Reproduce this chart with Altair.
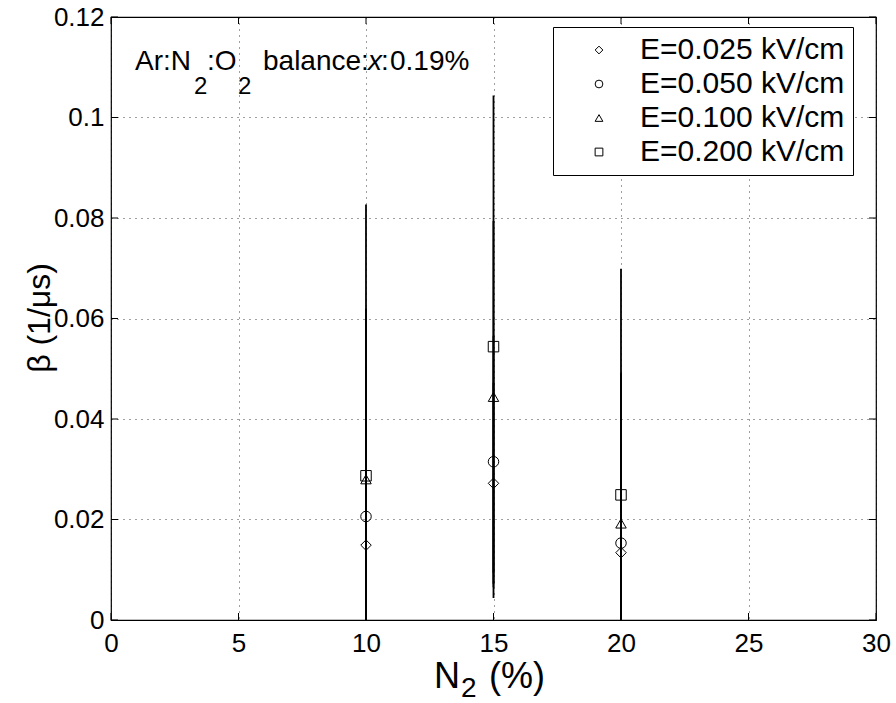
import altair as alt
import pandas as pd

# ---- data ----
n2 = [10, 15, 20]
series_names = ["E=0.025 kV/cm", "E=0.050 kV/cm", "E=0.100 kV/cm", "E=0.200 kV/cm"]
beta_025 = [0.0149, 0.0272, 0.0134]
beta_050 = [0.0206, 0.0315, 0.0153]
beta_100 = [0.0280, 0.0444, 0.0192]
beta_200 = [0.0287, 0.0544, 0.0249]
err_025 = [0.020, 0.020, 0.015]
err_050 = [0.030, 0.025, 0.020]
err_100 = [0.034, 0.035, 0.030]
err_200 = [0.054, 0.050, 0.045]
x_ticks = [0, 5, 10, 15, 20, 25, 30]
y_ticks = [0, 0.02, 0.04, 0.06, 0.08, 0.1, 0.12]
shapes = ["diamond", "circle", "triangle-up", "square"]

betas = [beta_025, beta_050, beta_100, beta_200]
errs = [err_025, err_050, err_100, err_200]
rows = []
for name, bs, es in zip(series_names, betas, errs):
    for x, b, e in zip(n2, bs, es):
        rows.append({"n2": x, "beta": b, "lo": b - e, "hi": b + e, "series": name})
df = pd.DataFrame(rows)

W, H = 765, 603
LEFT, TOP = 111, 17
FONT = "Liberation Sans"

xs = alt.Scale(domain=[0, 30], nice=False, zero=False)
ys = alt.Scale(domain=[0, 0.12], nice=False, zero=False)
xaxis = alt.Axis(values=x_ticks, labelExpr="format(datum.value, 'd')", title=None)
yaxis = alt.Axis(values=y_ticks, labelExpr="format(datum.value, '.2~f')", title=None)

bars = alt.Chart(df).mark_rule(color="black", strokeWidth=1.8, clip=True).encode(
    x=alt.X("n2:Q", scale=xs, axis=xaxis),
    y=alt.Y("lo:Q", scale=ys, axis=yaxis),
    y2="hi:Q",
)

points = alt.Chart(df).mark_point(filled=False, color="black", strokeWidth=1, size=110, opacity=1).encode(
    x=alt.X("n2:Q", scale=xs, axis=xaxis),
    y=alt.Y("beta:Q", scale=ys, axis=yaxis),
    shape=alt.Shape(
        "series:N",
        scale=alt.Scale(domain=series_names, range=shapes),
        sort=series_names,
        legend=alt.Legend(
            title=None,
            orient="none",
            legendX=553 - LEFT,
            legendY=27 - TOP,
            fillColor="white",
            strokeColor="black",
            padding=8,
            labelFont=FONT,
            labelFontSize=30,
            labelColor="black",
            labelLimit=500,
            labelOffset=26,
            symbolOffset=23,
            symbolSize=60,
            symbolStrokeColor="black",
            symbolStrokeWidth=1,
            symbolFillColor="transparent",
            rowPadding=4,
        ),
    ),
)

ydf = pd.DataFrame({"v": y_ticks})
xdf = pd.DataFrame({"v": x_ticks})
tick_len = 7
yt_left = alt.Chart(ydf).mark_rule(color="black", strokeWidth=1).encode(
    y=alt.Y("v:Q", scale=ys, axis=yaxis), x=alt.value(0), x2=alt.value(tick_len))
yt_right = alt.Chart(ydf).mark_rule(color="black", strokeWidth=1).encode(
    y=alt.Y("v:Q", scale=ys, axis=yaxis), x=alt.value(W - tick_len), x2=alt.value(W))
xt_bottom = alt.Chart(xdf).mark_rule(color="black", strokeWidth=1).encode(
    x=alt.X("v:Q", scale=xs, axis=xaxis), y=alt.value(H - tick_len), y2=alt.value(H))
xt_top = alt.Chart(xdf).mark_rule(color="black", strokeWidth=1).encode(
    x=alt.X("v:Q", scale=xs, axis=xaxis), y=alt.value(0), y2=alt.value(tick_len))


def txt(s, ax, ay, size, italic=False, align="left", baseline="alphabetic", angle=0):
    return alt.Chart(pd.DataFrame({"t": [s]})).mark_text(
        align=align, baseline=baseline, font=FONT, fontSize=size,
        fontStyle="italic" if italic else "normal", color="black", angle=angle,
    ).encode(text="t:N", x=alt.value(ax - LEFT), y=alt.value(ay - TOP))


texts = [
    # annotation
    txt("Ar:N", 135, 70, 28),
    txt("2", 194, 94, 24),
    txt(":O", 207, 70, 28),
    txt("2", 238, 94, 24),
    txt("balance:", 263, 70, 28),
    txt("x", 368, 70, 28, italic=True),
    txt(":", 381, 70, 28),
    txt("0.19%", 390, 70, 28),
    # x title
    txt("N", 434, 688, 36),
    txt("2", 461, 697, 28),
    txt("(%)", 489, 688, 36),
    # y title
    txt("β (1/μs)", 40, 318, 32, align="center", baseline="middle", angle=270),
]

chart = alt.layer(bars, points, yt_left, yt_right, xt_bottom, xt_top, *texts).properties(
    width=W, height=H,
    autosize=alt.AutoSizeParams(type="none"),
    padding={"left": LEFT, "top": TOP, "right": 896 - LEFT - W, "bottom": 703 - TOP - H},
    background="white",
).configure_view(
    stroke="black", strokeWidth=1.2,
).configure_axis(
    domain=False, ticks=False, grid=True, gridColor="#000", gridDash=[1, 5],
    gridWidth=1, gridOpacity=0.75, labelFont=FONT, labelFontSize=26,
    labelColor="black", labelFlush=False, labelOverlap=False,
).configure_axisY(labelPadding=7).configure_axisX(labelPadding=10)

chart.save("out.html", embed_options={"renderer": "svg", "actions": False})
